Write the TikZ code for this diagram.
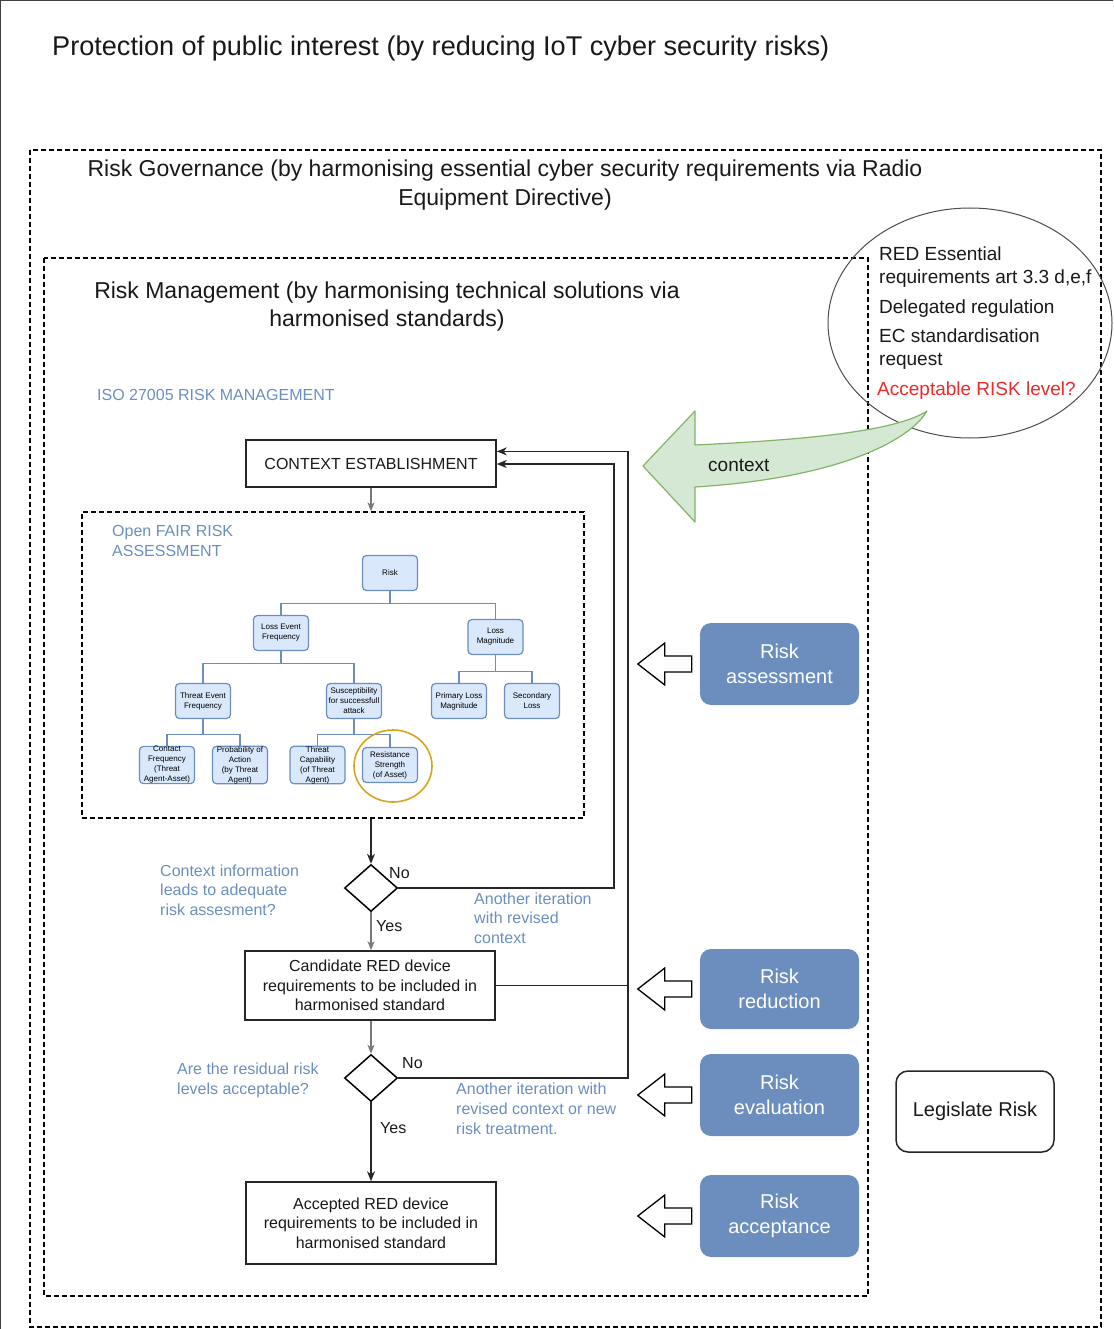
\documentclass[tikz,border=0pt]{standalone}
\usepackage{fontspec}
\setmainfont{Liberation Sans}
\usetikzlibrary{arrows.meta,shapes.geometric,calc}

\definecolor{fairblue}{HTML}{6C8EBF}
\definecolor{fairfill}{HTML}{DAE8FC}
\definecolor{ctxgreen}{HTML}{D5E8D4}
\definecolor{ctxedge}{HTML}{82B366}
\definecolor{ringgold}{RGB}{214,164,30}
\definecolor{askred}{RGB}{240,40,40}
\definecolor{linegray}{RGB}{120,120,120}
\definecolor{textdark}{RGB}{25,25,25}

\tikzset{
  lbl/.style={inner sep=0pt, text=textdark},
  dashbox/.style={draw=black, line width=1.3pt, dash pattern=on 5pt off 3pt},
  procbox/.style={draw=black!85, line width=1.5pt, fill=white, align=center,
    inner sep=0pt, text=textdark, font=\fontsize{16}{19.5}\selectfont},
  fairnode/.style={draw=fairblue, fill=fairfill, line width=1.2pt, rounded corners=4pt,
    minimum width=55pt, minimum height=35pt, inner sep=0pt, align=center,
    font=\fontsize{8}{10}\selectfont},
  stagebox/.style={fill=fairblue, rounded corners=11pt, minimum width=159pt,
    minimum height=81pt, text=white, align=center, inner sep=0pt,
    font=\fontsize{20}{25}\selectfont},
  decision/.style={diamond, draw=black, line width=1.5pt, minimum width=53pt,
    minimum height=47pt, inner sep=0pt},
  note/.style={inner sep=0pt, text=fairblue, align=left, font=\fontsize{16}{19.5}\selectfont},
  tree/.style={draw=fairblue, line width=1.2pt},
  flow/.style={line width=1.5pt, draw=black!85, -{Stealth[length=10pt,width=8pt,inset=3pt]}},
  grayflow/.style={line width=1.3pt, draw=linegray, -{Stealth[length=9pt,width=7pt,inset=2.5pt]}},
  pics/leftblock/.style={code={
    \draw[line width=1.3pt, fill=white, line join=miter]
      (0,0) -- (27,-21) -- (27,-8) -- (54,-8) -- (54,8) -- (27,8) -- (27,21) -- cycle;}}
}

\begin{document}
\begin{tikzpicture}[x=1pt,y=-1pt]
\useasboundingbox (0,0) rectangle (1113,1329);

% page frame
\draw[line width=1.2pt, black!75] (0.6,1329) -- (0.6,0.6) -- (1113,0.6);

% headings of the three nested levels
\node[lbl, anchor=west, font=\fontsize{27.1}{32}\selectfont] (title) at (52,48.5)
  {Protection of public interest (by reducing IoT cyber security risks)};

\draw[dashbox] (30,150) rectangle (1101,1327);
\node[lbl, align=center, font=\fontsize{23}{29}\selectfont] (govtext) at (505,185)
  {Risk Governance (by harmonising essential cyber security requirements via Radio\\Equipment Directive)};

\draw[dashbox] (44,258) rectangle (868,1296);
\node[lbl, align=center, font=\fontsize{23}{28}\selectfont] (mgmttext) at (387,307)
  {Risk Management (by harmonising technical solutions via\\harmonised standards)};

\node[note, anchor=west] (iso) at (97,395) {ISO 27005 RISK MANAGEMENT};

% regulatory inputs
\node[draw=black!70, line width=1pt, ellipse, minimum width=284pt, minimum height=230pt,
  inner sep=0pt] (req) at (970,323) {};
\begin{scope}[every node/.style={lbl, anchor=west, align=left, font=\fontsize{19}{23}\selectfont}]
  \node (redreq) at (879,267.5) {RED Essential\\requirements art 3.3 d,e,f};
  \node (deleg) at (879,309) {Delegated regulation};
  \node (ecreq) at (879,349.5) {EC standardisation\\request};
  \node[text=askred] (acclevel) at (877,391) {Acceptable RISK level?};
\end{scope}

% context arrow from the regulation to the process
\draw[fill=ctxgreen, draw=ctxedge, line width=1.2pt, line join=round]
  (643,466) -- (695,411) -- (695,445)
  .. controls (800,440) and (895,432) .. (927,411)
  .. controls (910,440) and (840,478) .. (695,487)
  -- (695,522) -- cycle;
\node[lbl, anchor=west, font=\fontsize{19}{23}\selectfont] (ctxlabel) at (708,465) {context};

% process chain
\node[procbox, minimum width=250pt, minimum height=47pt] (ctx) at (371,463.5) {CONTEXT ESTABLISHMENT};

\node[dashbox, minimum width=502pt, minimum height=306pt, inner sep=0pt] (fairbox) at (333,665) {};
\node[note, anchor=west, font=\fontsize{16}{20}\selectfont] (fairlabel) at (112,541) {Open FAIR RISK\\ASSESSMENT};

% Open FAIR taxonomy
\node[fairnode] (risk) at (390,573) {Risk};
\node[fairnode] (lef) at (281,633) {Loss Event\\Frequency};
\node[fairnode] (lm) at (495.5,637) {Loss\\Magnitude};
\node[fairnode] (tef) at (203,701) {Threat Event\\Frequency};
\node[fairnode] (sus) at (354,701) {Susceptibility\\for successfull\\attack};
\node[fairnode] (plm) at (459,701) {Primary Loss\\Magnitude};
\node[fairnode] (sl) at (532,701) {Secondary\\Loss};
\node[fairnode] (cf) at (167,765) {Contact\\Frequency\\(Threat\\Agent-Asset)};
\node[fairnode] (pa) at (240,765) {Probability of\\Action\\(by Threat\\Agent)};
\node[fairnode] (tc) at (317.5,765) {Threat\\Capability\\(of Threat\\Agent)};
\node[fairnode] (rs) at (390,765) {Resistance\\Strength\\(of Asset)};

\draw[tree] (risk.south) -- ++(0,12.3) -| (lef.north);
\draw[tree] (risk.south) -- ++(0,12.3) -| (lm.north);
\draw[tree] (lef.south) -- ++(0,12.4) -| (tef.north);
\draw[tree] (lef.south) -- ++(0,12.4) -| (sus.north);
\draw[tree] (lm.south) -- ++(0,16) -| (plm.north);
\draw[tree] (lm.south) -- ++(0,16) -| (sl.north);
\draw[tree] (tef.south) -- ++(0,15.3) -| (cf.north);
\draw[tree] (tef.south) -- ++(0,15.3) -| (pa.north);
\draw[tree] (sus.south) -- ++(0,15.3) -| (tc.north);
\draw[tree] (sus.south) -- ++(0,15.3) -| (rs.north);

\node[draw=ringgold, line width=1.6pt, ellipse, minimum width=78pt, minimum height=72pt,
  inner sep=0pt] (ring) at (393,766) {};

\draw[grayflow] (ctx.south) -- (ctx.south |- fairbox.north);

% decisions and outcomes
\node[decision] (d1) at (371,888) {};
\node[procbox, minimum width=250pt, minimum height=69pt] (cand) at (370,985.5)
  {Candidate RED device\\requirements to be included in\\harmonised standard};
\node[decision] (d2) at (371,1078) {};
\node[procbox, minimum width=250pt, minimum height=82pt] (accbox) at (371,1223)
  {Accepted RED device\\requirements to be included in\\harmonised standard};

\coordinate (loopA) at (614,0);
\coordinate (loopB) at (628,0);
\coordinate (inA) at ($(ctx.east)+(0,0.5)$);
\coordinate (inB) at ($(ctx.north east)!0.25!(ctx.south east)$);

\draw[flow] (d1.north |- fairbox.south) -- (d1.north);
\draw[flow] (d1.east) -- (d1.east -| loopA) |- (inA);
\draw[grayflow] (d1.south) -- (cand.north -| d1.south);
\draw[line width=1.5pt, draw=black!85] (cand.east) -- (cand.east -| loopB);
\draw[grayflow] (cand.south -| d2.north) -- (d2.north);
\draw[flow] (d2.east) -- (d2.east -| loopB) |- (inB);
\draw[flow] (d2.south) -- (accbox.north -| d2.south);

\begin{scope}[every node/.style={lbl, anchor=west, font=\fontsize{16}{19}\selectfont}]
  \node (no1) at (389,873) {No};
  \node (yes1) at (376,926) {Yes};
  \node (no2) at (402,1063) {No};
  \node (yes2) at (380,1128) {Yes};
\end{scope}

\node[note, anchor=west] (q1) at (160,890) {Context information\\leads to adequate\\risk assesment?};
\node[note, anchor=west] (it1) at (474,918) {Another iteration\\with revised\\context};
\node[note, anchor=west, font=\fontsize{16}{20}\selectfont] (q2) at (177,1080.5) {Are the residual risk\\levels acceptable?};
\node[note, anchor=west, font=\fontsize{16}{20}\selectfont] (it2) at (456,1108.5) {Another iteration with\\revised context or new\\risk treatment.};

% ISO 27005 stages
\node[stagebox, minimum height=82pt] (sassess) at (779.5,664) {Risk\\assessment};
\node[stagebox, minimum height=80pt] (sreduce) at (779.5,989) {Risk\\reduction};
\node[stagebox, minimum height=82pt] (seval) at (779.5,1095) {Risk\\evaluation};
\node[stagebox, minimum height=82pt] (saccept) at (779.5,1216) {Risk\\acceptance};

\pic at ($(sassess.west)+(-62,0)$) {leftblock};
\pic at ($(sreduce.west)+(-62,0)$) {leftblock};
\pic at ($(seval.west)+(-62,0)$) {leftblock};
\pic at ($(saccept.west)+(-62,0)$) {leftblock};

\node[draw=black!85, line width=1.5pt, rounded corners=12pt, minimum width=158pt,
  minimum height=81pt, inner sep=0pt, text=textdark, font=\fontsize{20}{24}\selectfont]
  (legis) at (975,1111.5) {Legislate Risk};

\end{tikzpicture}
\end{document}
